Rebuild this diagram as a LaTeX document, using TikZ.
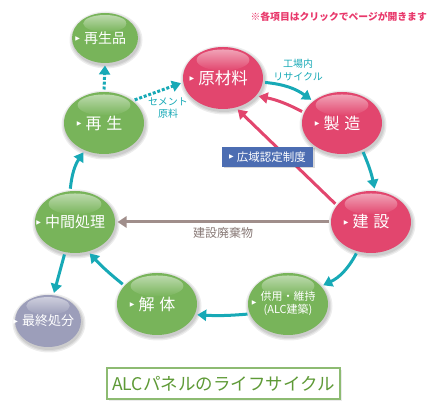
\documentclass[tikz,border=0pt]{standalone}
\usepackage{fontspec}
\setmainfont{Noto Sans CJK JP}
\newfontfamily\dejavu{DejaVu Sans}
\usetikzlibrary{arrows.meta,shapes.geometric}

\definecolor{cpink}{HTML}{E2466E}
\definecolor{cgreen}{HTML}{78B45A}
\definecolor{cgrey}{HTML}{9C9EBA}
\definecolor{cteal}{HTML}{17A9B6}
\definecolor{cblue}{HTML}{4C6DB2}
\definecolor{cbrown}{HTML}{A08E8B}
\definecolor{ctitle}{HTML}{5E9A36}
\definecolor{ctitleline}{HTML}{8DBB72}
\definecolor{cnote}{HTML}{E8386B}

\newcommand\tri{\raisebox{.22em}{\fontsize{6}{6}\selectfont\dejavu ▶}}

\tikzset{
  bub/.style={ellipse, inner sep=0pt, outer sep=2.5pt},
  bubtext/.style={text=white, inner sep=0pt, align=center},
  flow/.style={cteal, line width=3pt, -{Triangle[width=11pt,length=9pt]}},
  dots/.style={flow, dash pattern=on 3pt off 1.8pt},
  back/.style={cpink, line width=3pt, -{Triangle[width=11pt,length=9pt]}},
  waste/.style={cbrown, line width=3pt, -{Triangle[width=11pt,length=9pt]}},
  lbl/.style={cteal, font=\fontsize{10}{12.5}\selectfont, align=center, inner sep=0pt},
  wlbl/.style={cbrown!85!black, font=\fontsize{12}{14}\selectfont, inner sep=0pt},
  bluebox/.style={fill=cblue, text=white, minimum width=91pt, minimum height=20pt, inner sep=0pt, font=\fontsize{11.5}{13}\selectfont},
  titlebox/.style={draw=ctitleline, line width=1.2pt, fill=white, text=ctitle, minimum width=233pt, minimum height=31pt, inner sep=0pt, font=\fontsize{17.5}{20}\selectfont},
  note/.style={text=cnote, inner sep=0pt, font=\fontsize{9.8}{11}\selectfont\bfseries},
}

% name, x, y, rx, ry, colour, font, text
\newcommand\bubble[8]{%
  \foreach \g in {3.5,2.2,1} {\fill[black,opacity=.07] (#2+1,#3-2) ellipse [x radius=#4+\g, y radius=#5+\g];}
  \node[bub, fill=#6, minimum width=2*#4, minimum height=2*#5] (#1) at (#2,#3) {};
  \shade[top color=white!50!#6, bottom color=#6] (#2,#3+0.58*#5) ellipse [x radius=0.66*#4, y radius=0.34*#5];
  \node[bubtext, font=#7] (#1-t) at (#2,#3) {\llap{\tri\hspace{4pt}}#8};
}

\begin{document}
\begin{tikzpicture}[x=1pt,y=1pt]
\useasboundingbox (0,0) rectangle (430,417);

\bubble{hin}{105}{379}{33}{25}{cgreen}{\fontsize{14}{16}\selectfont}{再生品}
\bubble{sai}{104}{294}{40}{31}{cgreen}{\fontsize{16}{18}\selectfont}{再\hspace{5pt}生}
\bubble{gen}{223}{339}{40}{31}{cpink}{\fontsize{16.5}{18}\selectfont}{原材料}
\bubble{sei}{342}{294}{40}{31}{cpink}{\fontsize{16}{18}\selectfont}{製\hspace{5pt}造}
\bubble{ken}{371}{195}{40}{31}{cpink}{\fontsize{16}{18}\selectfont}{建\hspace{5pt}設}
\bubble{chu}{75}{195}{40}{31}{cgreen}{\fontsize{15}{17}\selectfont}{中間処理}
\bubble{kai}{157}{113}{40}{31}{cgreen}{\fontsize{16}{18}\selectfont}{解\hspace{5pt}体}
\bubble{kyo}{288}{113}{40}{31}{cgreen}{\fontsize{11}{13}\selectfont}{\begin{tabular}{@{}c@{}}供用・維持\\(ALC建築)\end{tabular}}
\bubble{fin}{48}{96}{33}{26}{cgrey}{\fontsize{13}{15}\selectfont}{最終処分}

\draw[dots] (sai.90) -- (hin.-90);
\draw[dots] (sai.37) -- (gen.187);
\draw[flow] (gen.-6) to[bend left=15] (sei.143);
\draw[back] (sei.164) to[bend right=8] (gen.-27);
\draw[back] (ken.153) -- (gen.-65);
\draw[flow] (sei.-54) to[bend left=6] (ken.84);
\draw[flow] (ken.-115) to[bend left=18] (kyo.28);
\draw[flow] (kyo.194) to[bend left=4] (kai.-15);
\draw[flow] (kai.150) to[bend left=4] (chu.-65);
\draw[flow] (chu.98) to[bend left=14] (sai.-125);
\draw[flow] (chu.-108) -- (fin.78);
\draw[waste] (ken.180) -- (chu.0);

\node[lbl] (cem) at (168,309) {セメント\\原料};
\node[lbl] (kojo) at (298,347) {工場内\\リサイクル};
\node[wlbl] (haiki) at (223,184) {建設廃棄物};

\fill[black,opacity=.15] (223.5,249) rectangle (314.5,269);
\node[bluebox] (kouiki) at (267.5,260) {\tri\hspace{3pt}広域認定制度};

\fill[black,opacity=.08] (108.5,16.5) rectangle (341.5,47.5);
\node[titlebox] (title) at (223.5,33.5) {ALCパネルのライフサイクル};

\node[note, anchor=east] (notetext) at (427,400) {※各項目はクリックでページが開きます};
\end{tikzpicture}
\end{document}
